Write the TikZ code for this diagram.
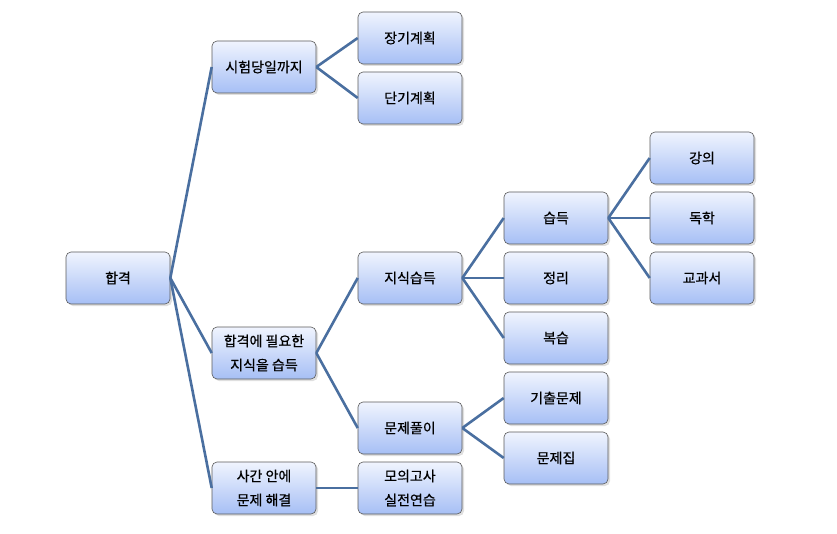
\documentclass[tikz,border=0pt]{standalone}
\usepackage{fontspec}
\setmainfont{Noto Sans CJK KR}[FakeBold=0.6]
\usetikzlibrary{shadows}
\definecolor{linkblue}{RGB}{74,111,160}
\definecolor{boxtop}{RGB}{240,244,254}
\definecolor{boxbot}{RGB}{166,191,245}
\definecolor{boxedge}{RGB}{90,90,90}
\begin{document}
\begin{tikzpicture}[x=1pt,y=-1pt,
  treenode/.style={draw=boxedge,line width=0.6pt,rounded corners=5pt,top color=boxtop,bottom color=boxbot,
    minimum width=104pt,minimum height=52pt,align=center,inner sep=2pt,
    font=\fontsize{14}{24}\selectfont,
    drop shadow={shadow xshift=2pt,shadow yshift=-2pt,opacity=0.25}},
  link/.style={draw=linkblue,line width=2.6pt}]
  \useasboundingbox (0,0) rectangle (837,534);
  \node[treenode] (root) at (118,278) {합격};
  \node[treenode] (exam) at (264,67) {시험당일까지};
  \node[treenode] (need) at (264,353) {합격에 필요한\\지식을 습득};
  \node[treenode] (solve) at (264,488) {사간 안에\\문제 해결};
  \node[treenode] (longp) at (410,38) {장기계획};
  \node[treenode] (shortp) at (410,98) {단기계획};
  \node[treenode] (know) at (410,278) {지식습득};
  \node[treenode] (prob) at (410,428) {문제풀이};
  \node[treenode] (mock) at (410,488) {모의고사\\실전연습};
  \node[treenode] (acq) at (556,218) {습득};
  \node[treenode] (org) at (556,278) {정리};
  \node[treenode] (rev) at (556,338) {복습};
  \node[treenode] (past) at (556,398) {기출문제};
  \node[treenode] (book) at (556,458) {문제집};
  \node[treenode] (lec) at (702,158) {강의};
  \node[treenode] (self) at (702,218) {독학};
  \node[treenode] (text) at (702,278) {교과서};
  \draw[link] (root.east) -- (exam.west);
  \draw[link] (root.east) -- (need.west);
  \draw[link] (root.east) -- (solve.west);
  \draw[link] (exam.east) -- (longp.west);
  \draw[link] (exam.east) -- (shortp.west);
  \draw[link] (need.east) -- (know.west);
  \draw[link] (need.east) -- (prob.west);
  \draw[link] (solve.east) -- (mock.west);
  \draw[link] (know.east) -- (acq.west);
  \draw[link] (know.east) -- (org.west);
  \draw[link] (know.east) -- (rev.west);
  \draw[link] (prob.east) -- (past.west);
  \draw[link] (prob.east) -- (book.west);
  \draw[link] (acq.east) -- (lec.west);
  \draw[link] (acq.east) -- (self.west);
  \draw[link] (acq.east) -- (text.west);
\end{tikzpicture}
\end{document}
